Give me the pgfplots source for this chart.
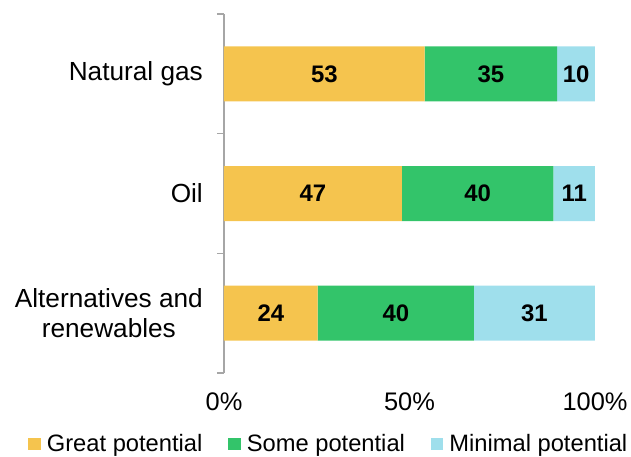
\documentclass[border=0pt]{standalone}
\usepackage{fontspec}
\setmainfont{Liberation Sans}
\usepackage{pgfplots}
\usepackage{pgfplotstable}
\pgfplotsset{compat=1.18}

\definecolor{great}{HTML}{F5C44E}
\definecolor{some}{HTML}{33C46A}
\definecolor{minimal}{HTML}{9FDFEC}
\definecolor{axgray}{HTML}{A6A6A6}

% y: 0 = Alternatives and renewables, 1 = Oil, 2 = Natural gas
\pgfplotstableread{
y great some minimal
0 24 40 31
1 47 40 11
2 53 35 10
}\datatable

\newcommand{\barlabel}{\fontsize{24}{28}\selectfont\bfseries\pgfmathprintnumber[assume math mode=true]{\rawval}}

\begin{document}
\begin{tikzpicture}
\begin{axis}[
    xbar stacked,
    scale only axis,
    width=371bp, height=359bp,
    xmin=0, xmax=100,
    ymin=-0.5, ymax=2.5,
    bar width=55bp,
    axis lines*=left,
    x axis line style={draw=none},
    y axis line style={draw=axgray, line width=1.5bp},
    tick align=outside,
    major tick length=0pt,
    tick style={draw=axgray, line width=1.5bp},
    xtick={0,50,100},
    xticklabels={0\%,50\%,100\%},
    xtick style={draw=none},
    xticklabel style={font=\fontsize{25.5}{30}\selectfont, yshift=-16bp},
    ytick={0,1,2},
    yticklabels={{Alternatives and\\renewables},Oil,Natural gas},
    yticklabel style={font=\fontsize{26.3}{30}\selectfont, align=center, inner sep=0pt, xshift=-21bp},
    extra y ticks={-0.5,0.5,1.5,2.5},
    extra y tick labels={},
    extra y tick style={major tick length=7bp},
    legend style={at={(-0.5275,-0.197)}, anchor=west, draw=none, inner sep=0pt,
        legend columns=3,
        font=\fontsize{23.8}{28}\selectfont,
        nodes={inner sep=0pt},
        /tikz/every odd column/.append style={column sep=6bp},
        /tikz/every even column/.append style={column sep=26bp}},
    legend image code/.code={\fill[#1] (0bp,-6.2bp) rectangle (12.4bp,6.2bp);},
]
\addplot[fill=great, draw=none,
    visualization depends on={\thisrow{great} \as \rawval},
    nodes near coords={\barlabel}]
    table[x expr=\thisrow{great}*100/(\thisrow{great}+\thisrow{some}+\thisrow{minimal}), y=y] {\datatable};
\addlegendentry{Great potential}
\addplot[fill=some, draw=none,
    visualization depends on={\thisrow{some} \as \rawval},
    nodes near coords={\barlabel}]
    table[x expr=\thisrow{some}*100/(\thisrow{great}+\thisrow{some}+\thisrow{minimal}), y=y] {\datatable};
\addlegendentry{Some potential}
\addplot[fill=minimal, draw=none,
    visualization depends on={\thisrow{minimal} \as \rawval},
    nodes near coords={\barlabel}]
    table[x expr=\thisrow{minimal}*100/(\thisrow{great}+\thisrow{some}+\thisrow{minimal}), y=y] {\datatable};
\addlegendentry{Minimal potential}
\end{axis}
\pgfresetboundingbox
\path (-224bp,-84bp) rectangle (407bp,373bp);
\end{tikzpicture}
\end{document}
